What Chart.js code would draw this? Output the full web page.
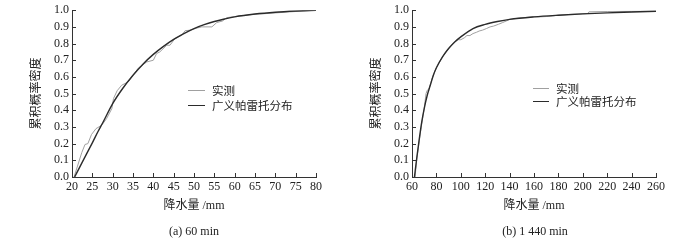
<!DOCTYPE html>
<html>
<head>
<meta charset="utf-8">
<script src="https://cdn.jsdelivr.net/npm/chart.js@4.4.0/dist/chart.umd.min.js"></script>
<style>
    body { margin: 0; background: #fff; width: 700px; height: 240px; overflow: hidden; position: relative; color: #222; }
    .panel { position: absolute; top: 0; width: 350px; height: 240px; }
    .legend { position: absolute; font-family: "Noto Sans CJK SC", sans-serif; font-size: 11.5px; }
    .legend .row { position: absolute; left: 0; white-space: nowrap; height: 14px; line-height: 14px; }
    .legend .swatch { position: absolute; top: 7px; height: 0; }
    .caption { position: absolute; top: 224px; width: 300px; text-align: center; font-family: "Liberation Serif", serif; font-size: 12px; line-height: 14px; }
</style>
</head>
<body>
<div class="panel" style="left:0"><canvas id="chartA" width="350" height="240"></canvas></div>
<div class="panel" style="left:350px"><canvas id="chartB" width="350" height="240"></canvas></div>
<div class="legend" id="legendA" style="left:188px; top:83px"></div>
<div class="legend" id="legendB" style="left:533px; top:81px"></div>
<div class="caption" style="left:44px">(a) 60 min</div>
<div class="caption" style="left:385px">(b) 1 440 min</div>

<script>
// tick labels
const yTicks = [0, 0.1, 0.2, 0.3, 0.4, 0.5, 0.6, 0.7, 0.8, 0.9, 1.0];
const xTicksA = [20, 25, 30, 35, 40, 45, 50, 55, 60, 65, 70, 75, 80];
const xTicksB = [60, 80, 100, 120, 140, 160, 180, 200, 220, 240, 260];

const seriesNames = ['实测', '广义帕雷托分布'];

// (a) 60 min - observed
const obsAX = [20.5, 22.4, 23.2, 23.9, 24.8, 25.9, 27.3, 28.5, 29.8, 30.2, 31.1, 32.2, 33.4, 34.0, 35.0, 36.3, 38.4, 40.0, 40.8, 41.6, 43.3, 44.1, 45.3, 47.0, 47.8, 49.0, 50.7, 51.9, 54.4, 55.6, 57.0, 58.0, 60.0, 64.6, 67.9, 73.6, 80];
const obsAY = [0, 0.146, 0.195, 0.2, 0.255, 0.29, 0.31, 0.35, 0.41, 0.47, 0.517, 0.55, 0.565, 0.575, 0.61, 0.653, 0.69, 0.70, 0.74, 0.75, 0.79, 0.79, 0.83, 0.85, 0.877, 0.88, 0.893, 0.9, 0.9, 0.926, 0.935, 0.955, 0.962, 0.975, 0.98, 0.99, 1.0];
// (a) 60 min - GPD fit
const fitAX = [20.65, 22.5, 25, 26.4, 27.5, 30, 32.5, 35, 37.5, 40, 42.5, 45, 47.5, 50, 52.5, 55, 57.5, 60, 65, 70, 75, 80];
const fitAY = [0, 0.088, 0.205, 0.273, 0.322, 0.44, 0.532, 0.61, 0.678, 0.735, 0.783, 0.825, 0.86, 0.89, 0.913, 0.932, 0.947, 0.96, 0.977, 0.988, 0.995, 1.0];

// (b) 1 440 min - observed
const obsBX = [62.5, 64, 66, 68, 70, 71.5, 72.5, 74, 76, 78, 80, 85, 90, 95, 98, 100, 103, 105, 107.5, 110, 113, 115, 118, 121, 124, 127, 131, 134, 137.5, 140, 150, 160, 165, 170, 175, 180, 190, 204, 205, 220, 240, 260];
const obsBY = [0, 0.11, 0.22, 0.32, 0.41, 0.50, 0.52, 0.53, 0.58, 0.62, 0.655, 0.72, 0.77, 0.81, 0.823, 0.823, 0.835, 0.848, 0.848, 0.86, 0.868, 0.875, 0.881, 0.89, 0.9, 0.905, 0.916, 0.925, 0.936, 0.945, 0.955, 0.96, 0.96, 0.962, 0.965, 0.97, 0.975, 0.98, 0.99, 0.992, 0.993, 0.994];
// (b) 1 440 min - GPD fit
const fitBX = [62, 64, 66, 68, 70, 72.5, 75, 77.5, 80, 85, 90, 95, 100, 110, 120, 130, 140, 160, 180, 200, 220, 240, 260];
const fitBY = [0, 0.12, 0.23, 0.33, 0.41, 0.49, 0.55, 0.61, 0.655, 0.72, 0.77, 0.81, 0.84, 0.89, 0.915, 0.932, 0.945, 0.96, 0.97, 0.978, 0.984, 0.989, 0.994];

const obsColor = '#a0a0a0';
const fitColor = '#2b2b2b';
const serif = '"Liberation Serif", "Noto Sans CJK SC", serif';

const zip = (xs, ys) => xs.map((x, i) => ({ x: x, y: ys[i] }));

// short tick marks pointing into the plot area
const innerTicks = {
    id: 'innerTicks',
    afterDraw(chart) {
        const { ctx, chartArea, scales } = chart;
        ctx.save();
        ctx.strokeStyle = '#333';
        ctx.lineWidth = 1;
        ctx.beginPath();
        scales.x.ticks.forEach(t => {
            const px = Math.round(scales.x.getPixelForValue(t.value)) + 0.5;
            ctx.moveTo(px, chartArea.bottom);
            ctx.lineTo(px, chartArea.bottom - 4);
        });
        scales.y.ticks.forEach(t => {
            const py = Math.round(scales.y.getPixelForValue(t.value)) + 0.5;
            ctx.moveTo(chartArea.left, py);
            ctx.lineTo(chartArea.left + 4, py);
        });
        ctx.stroke();
        ctx.restore();
    }
};

function makeChart(id, obs, fit, xTicks, opts) {
    return new Chart(document.getElementById(id), {
        type: 'line',
        data: {
            datasets: [{
                label: seriesNames[0],
                data: obs,
                borderColor: obsColor,
                borderWidth: 1,
                pointRadius: 0,
                tension: 0,
                order: 1
            }, {
                label: seriesNames[1],
                data: fit,
                borderColor: fitColor,
                borderWidth: 1.4,
                pointRadius: 0,
                cubicInterpolationMode: 'monotone',
                order: 0
            }]
        },
        options: {
            responsive: false,
            animation: false,
            layout: { padding: { left: 0, top: 6, right: opts.padRight, bottom: 22 } },
            plugins: { legend: { display: false }, tooltip: { enabled: false } },
            scales: {
                x: {
                    type: 'linear',
                    min: xTicks[0],
                    max: xTicks[xTicks.length - 1],
                    afterBuildTicks: s => { s.ticks = xTicks.map(v => ({ value: v })); },
                    afterFit: s => { s.height = 41; },
                    grid: { display: false, drawTicks: false, tickLength: 0 },
                    border: { display: true, color: '#333', width: 1 },
                    ticks: {
                        padding: 3,
                        color: '#222',
                        maxRotation: 0,
                        autoSkip: false,
                        font: { family: serif, size: 12, lineHeight: 1.2 }
                    },
                    title: {
                        display: true,
                        text: '降水量 /mm',
                        color: '#222',
                        padding: { top: 0, bottom: 5 },
                        font: { family: serif, size: 12, lineHeight: 1.2 }
                    }
                },
                y: {
                    min: 0,
                    max: 1,
                    afterBuildTicks: s => { s.ticks = yTicks.map(v => ({ value: v })); },
                    afterFit: s => { s.width = opts.yWidth; },
                    grid: { display: false, drawTicks: false, tickLength: 0 },
                    border: { display: true, color: '#333', width: 1 },
                    ticks: {
                        padding: 3,
                        color: '#222',
                        autoSkip: false,
                        callback: v => v.toFixed(1),
                        font: { family: serif, size: 12, lineHeight: 1.2 }
                    },
                    title: {
                        display: true,
                        text: '累积概率密度',
                        color: '#222',
                        padding: { top: opts.yTitlePad, bottom: 0 },
                        font: { family: '"Noto Sans CJK SC", sans-serif', size: 12, lineHeight: 1.2 }
                    }
                }
            }
        },
        plugins: [innerTicks]
    });
}

function buildLegend(chart, el, rowGap, lineLen) {
    chart.data.datasets.forEach((ds, i) => {
        const row = document.createElement('div');
        row.className = 'row';
        row.style.top = (i * rowGap) + 'px';
        const sw = document.createElement('div');
        sw.className = 'swatch';
        sw.style.width = lineLen + 'px';
        sw.style.borderTop = Math.round(ds.borderWidth) + 'px solid ' + ds.borderColor;
        const label = document.createElement('span');
        label.textContent = ds.label;
        label.style.marginLeft = (lineLen + 7) + 'px';
        row.appendChild(sw);
        row.appendChild(label);
        el.appendChild(row);
    });
}

const chartA = makeChart('chartA', zip(obsAX, obsAY), zip(fitAX, fitAY), xTicksA, { padRight: 34, yWidth: 72, yTitlePad: 28 });
const chartB = makeChart('chartB', zip(obsBX, obsBY), zip(fitBX, fitBY), xTicksB, { padRight: 44, yWidth: 62, yTitlePad: 18 });

buildLegend(chartA, document.getElementById('legendA'), 14.5, 17);
buildLegend(chartB, document.getElementById('legendB'), 12.5, 16);
</script>
</body>
</html>
